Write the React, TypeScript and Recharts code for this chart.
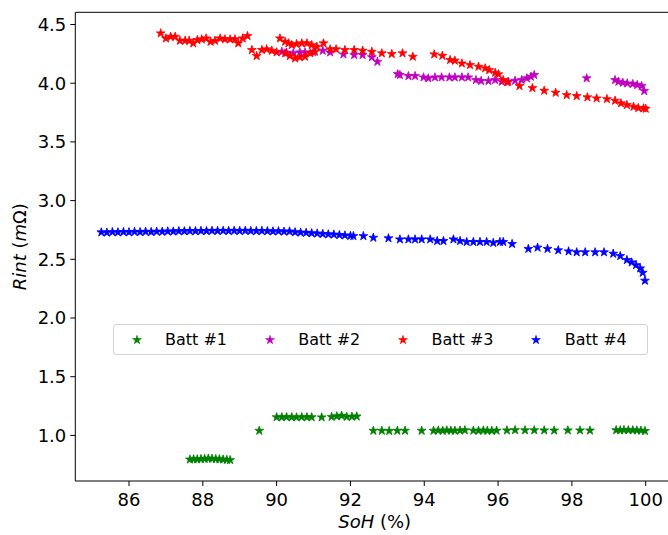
import React from 'react';
import { ScatterChart, Scatter, XAxis, YAxis, Legend, ReferenceLine, Symbols } from 'recharts';

// ---- Data ----
const SERIES_NAMES = ['Batt #1', 'Batt #2', 'Batt #3', 'Batt #4'];
const SERIES_COLORS = ['#008000', '#bf00bf', '#ff0000', '#0000ff'];

const B1_X = [87.65, 87.75, 87.85, 87.95, 88.05, 88.15, 88.25, 88.35, 88.45, 88.55, 88.65, 88.74,
  89.53,
  90.0, 90.14, 90.27, 90.41, 90.54, 90.68, 90.82, 90.95, 91.22,
  91.49, 91.63, 91.76, 91.9, 92.04, 92.17,
  92.62, 92.85, 93.05, 93.27, 93.48,
  93.93, 94.25, 94.38, 94.5, 94.61, 94.72, 94.83, 94.97, 95.1,
  95.33, 95.47, 95.6, 95.71, 95.83, 95.96,
  96.24, 96.46, 96.73, 96.98, 97.25, 97.52, 97.89, 98.22, 98.49,
  99.2, 99.31, 99.41, 99.53, 99.65, 99.76, 99.87, 99.98];
const B1_Y = [0.795, 0.797, 0.796, 0.799, 0.8, 0.803, 0.801, 0.799, 0.797, 0.795, 0.792, 0.79,
  1.04,
  1.155, 1.155, 1.156, 1.155, 1.154, 1.156, 1.155, 1.155, 1.154,
  1.158, 1.163, 1.168, 1.158, 1.16, 1.162,
  1.04, 1.04, 1.038, 1.04, 1.04,
  1.04, 1.04, 1.042, 1.04, 1.043, 1.041, 1.04, 1.042, 1.044,
  1.041, 1.04, 1.042, 1.04, 1.039, 1.041,
  1.043, 1.045, 1.044, 1.044, 1.043, 1.042, 1.043, 1.043, 1.042,
  1.045, 1.044, 1.046, 1.045, 1.044, 1.043, 1.041, 1.038];

const B2_X = [90.14, 90.27, 90.45, 90.63, 90.77, 90.99, 91.25, 91.45, 91.81, 92.1, 92.33, 92.58, 92.73,
  93.28, 93.34, 93.57, 93.75, 93.98, 94.11, 94.29, 94.47, 94.68, 94.83, 95.02, 95.19,
  95.4, 95.54, 95.74, 95.92, 96.1, 96.28, 96.46, 96.64, 96.78, 96.89, 96.98,
  98.4,
  99.17, 99.26, 99.38, 99.5, 99.65, 99.77, 99.89, 99.96];
const B2_Y = [4.268, 4.26, 4.255, 4.263, 4.263, 4.263, 4.277, 4.263, 4.246, 4.24, 4.24, 4.221, 4.183,
  4.078, 4.07, 4.061, 4.061, 4.05, 4.042, 4.05, 4.05, 4.05, 4.05, 4.05, 4.05,
  4.027, 4.019, 4.019, 4.027, 4.013, 4.013, 4.021, 4.027, 4.042, 4.056, 4.07,
  4.042,
  4.027, 4.013, 4.004, 3.999, 3.993, 3.985, 3.976, 3.934];

const B3_X = [86.86, 87.0, 87.13, 87.25, 87.38, 87.52, 87.63, 87.74, 87.85, 87.97, 88.09, 88.21, 88.33,
  88.47, 88.6, 88.74, 88.87, 88.96, 89.08, 89.21,
  89.33, 89.46, 89.6, 89.73, 89.87, 90.0,
  90.09, 90.23, 90.32, 90.41, 90.54, 90.68, 90.82, 90.95, 91.09, 91.27,
  90.23, 90.36, 90.5, 90.63, 90.77, 90.91, 91.04,
  91.45, 91.61, 91.85, 92.1, 92.33, 92.58, 92.85, 93.12, 93.41, 93.69,
  94.27, 94.49, 94.7, 94.83, 95.02, 95.24, 95.47, 95.65, 95.76, 95.92, 96.01, 96.14, 96.25,
  96.58, 96.93, 97.25, 97.56, 97.86, 98.13, 98.42, 98.67, 98.95, 99.17, 99.33, 99.49, 99.67, 99.8, 99.94, 100.0];
const B3_Y = [4.425, 4.382, 4.396, 4.396, 4.362, 4.362, 4.362, 4.34, 4.368, 4.374, 4.382, 4.353, 4.362,
  4.382, 4.374, 4.374, 4.374, 4.34, 4.382, 4.402,
  4.283, 4.232, 4.283, 4.289, 4.277, 4.263,
  4.382, 4.353, 4.34, 4.325, 4.334, 4.34, 4.34, 4.325, 4.311, 4.34,
  4.255, 4.232, 4.212, 4.221, 4.226, 4.255, 4.268,
  4.289, 4.289, 4.283, 4.283, 4.277, 4.268, 4.255, 4.249, 4.255, 4.226,
  4.246, 4.234, 4.198, 4.192, 4.169, 4.155, 4.141, 4.127, 4.112, 4.089, 4.076, 4.027, 4.008,
  3.976, 3.959, 3.936, 3.919, 3.899, 3.891, 3.88, 3.871, 3.865, 3.851, 3.829, 3.814, 3.8, 3.789, 3.786, 3.783];

const B4_X = [85.25, 85.4, 85.55, 85.7, 85.85, 86.0, 86.15, 86.3, 86.45, 86.6, 86.75, 86.9, 87.05, 87.2,
  87.35, 87.5, 87.65, 87.8, 87.95, 88.1, 88.25, 88.4, 88.55, 88.7, 88.85, 89.0, 89.15, 89.3, 89.45,
  89.6, 89.75, 89.9, 90.05, 90.2, 90.35, 90.5, 90.65, 90.8, 90.95, 91.1, 91.25, 91.4, 91.55, 91.7,
  91.85, 92.0, 92.08, 92.35, 92.62, 93.03, 93.34, 93.57, 93.75, 93.93, 94.16, 94.35, 94.52, 94.79,
  94.97, 95.15, 95.33, 95.51, 95.69, 95.87, 96.05, 96.14, 96.38, 96.82, 97.07, 97.34, 97.63, 97.91,
  98.13, 98.36, 98.63, 98.87, 99.12, 99.31, 99.49, 99.62, 99.74, 99.85, 99.92, 99.98];
const B4_Y = [2.73, 2.728, 2.732, 2.73, 2.733, 2.731, 2.734, 2.732, 2.735, 2.733, 2.736, 2.735, 2.738, 2.737,
  2.74, 2.739, 2.741, 2.74, 2.742, 2.741, 2.743, 2.742, 2.743, 2.742, 2.743, 2.742, 2.743, 2.742, 2.741,
  2.742, 2.74, 2.738, 2.739, 2.736, 2.737, 2.731, 2.728, 2.726, 2.722, 2.72, 2.716, 2.713, 2.711, 2.707,
  2.704, 2.7, 2.698, 2.698, 2.684, 2.679, 2.67, 2.67, 2.67, 2.67, 2.67, 2.656, 2.656, 2.67,
  2.656, 2.648, 2.648, 2.648, 2.648, 2.64, 2.648, 2.648, 2.631, 2.589, 2.6, 2.589, 2.577, 2.568,
  2.56, 2.56, 2.56, 2.56, 2.548, 2.528, 2.494, 2.474, 2.451, 2.423, 2.386, 2.318];

const X_TICKS = [86, 88, 90, 92, 94, 96, 98, 100];
const Y_TICKS = [1.0, 1.5, 2.0, 2.5, 3.0, 3.5, 4.0, 4.5];
const X_DOMAIN: [number, number] = [84.545, 100.604];
const Y_DOMAIN: [number, number] = [0.6116, 4.604];

const zip = (xs: number[], ys: number[]) => xs.map((x, i) => ({ x, y: ys[i] }));
const SERIES = [zip(B1_X, B1_Y), zip(B2_X, B2_Y), zip(B3_X, B3_Y), zip(B4_X, B4_Y)];

const FONT = '"DejaVu Sans", sans-serif';
const MARKER_SIZE = 24;

const makeStar = (color: string) => (p: any) => (
  <Symbols cx={p.cx} cy={p.cy} type="star" size={MARKER_SIZE} fill={color} stroke={color} strokeWidth={0.8} />
);

const LegendContent = (props: any) => {
  const payload = props.payload || [];
  return (
    <div style={{
      boxSizing: 'border-box', width: 535, height: 31, border: '1px solid #d4d4d4', borderRadius: 3,
      background: '#fff', display: 'flex', fontFamily: FONT, fontSize: 16, color: '#000',
    }}>
      {payload.map((p: any, i: number) => (
        <div key={i} style={{ position: 'relative', width: 137.3, height: '100%' }}>
          <svg width={14} height={14} style={{ position: 'absolute', left: 22.4 - 7, top: 15 - 7 }}>
            <Symbols cx={7} cy={7} type="star" size={MARKER_SIZE} fill={p.color} stroke={p.color} strokeWidth={0.6} />
          </svg>
          <span style={{ position: 'absolute', left: 50.7, top: 15, transform: 'translateY(-50%)', whiteSpace: 'nowrap', lineHeight: 1 }}>
            {p.value}
          </span>
        </div>
      ))}
    </div>
  );
};

const XLabel = (props: any) => {
  const vb = props.viewBox || {};
  const cx = vb.x + vb.width / 2 + 3;
  return (
    <text x={cx} y={528} textAnchor="middle" fontFamily={FONT} fontSize={18} fill="#000">
      <tspan fontStyle="italic">SoH</tspan>
      <tspan> (%)</tspan>
    </text>
  );
};

const YLabel = (props: any) => {
  const vb = props.viewBox || {};
  const cy = vb.y + vb.height / 2;
  const bx = 26;
  return (
    <text x={bx} y={cy} textAnchor="middle" fontFamily={FONT} fontSize={18} fill="#000"
      transform={`rotate(-90, ${bx}, ${cy})`}>
      <tspan fontStyle="italic">Rint</tspan>
      <tspan> (</tspan>
      <tspan fontStyle="italic">m</tspan>
      <tspan>Ω)</tspan>
    </text>
  );
};

export default function App() {
  return (
    <div style={{ position: 'fixed', left: 0, top: 0, width: 668, height: 535, background: '#fff' }}>
      <ScatterChart width={668} height={535} margin={{ top: 12.3, right: 0, bottom: 0, left: 0 }}>
        <XAxis
          type="number" dataKey="x" domain={X_DOMAIN} ticks={X_TICKS} allowDataOverflow
          height={54} tickSize={5} tickMargin={7}
          axisLine={{ stroke: '#000' }} tickLine={{ stroke: '#000' }}
          tick={{ fill: '#000', fontSize: 18, fontFamily: FONT }}
          label={<XLabel />}
        />
        <YAxis
          type="number" dataKey="y" domain={Y_DOMAIN} ticks={Y_TICKS} allowDataOverflow
          width={75.3} tickSize={5} tickMargin={4}
          tickFormatter={(v: number) => v.toFixed(1)}
          axisLine={{ stroke: '#000' }} tickLine={{ stroke: '#000' }}
          tick={{ fill: '#000', fontSize: 18, fontFamily: FONT }}
          label={<YLabel />}
        />
        <ReferenceLine y={Y_DOMAIN[1]} stroke="#000" />
        {SERIES.map((d, i) => (
          <Scatter key={i} name={SERIES_NAMES[i]} data={d} fill={SERIES_COLORS[i]}
            shape={makeStar(SERIES_COLORS[i])} isAnimationActive={false} />
        ))}
        <Legend
          layout="horizontal" verticalAlign="middle" align="center"
          content={<LegendContent />}
          wrapperStyle={{ position: 'absolute', left: 113.3, top: 324.3, width: 535, height: 31 }}
        />
      </ScatterChart>
    </div>
  );
}
